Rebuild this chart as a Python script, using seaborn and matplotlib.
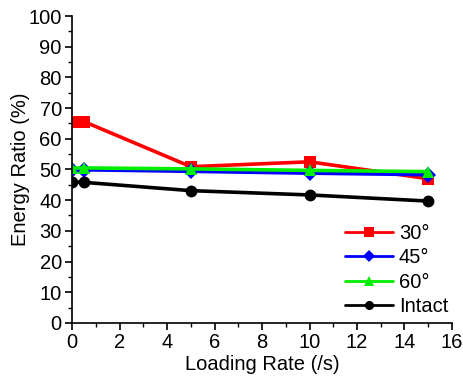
import matplotlib
matplotlib.use("Agg")
import matplotlib.pyplot as plt
import seaborn as sns
import pandas as pd
from matplotlib.ticker import MultipleLocator

loading_rate = [0.01, 0.5, 5, 10, 15]
ratio_30 = [65.6, 65.6, 50.9, 52.5, 47.0]
ratio_45 = [49.9, 49.9, 49.4, 48.8, 48.3]
ratio_60 = [50.5, 50.5, 50.2, 49.7, 49.3]
ratio_intact = [46.0, 45.8, 43.1, 41.7, 39.7]
series_names = ["30°", "45°", "60°", "Intact"]

df = pd.concat([
    pd.DataFrame({"rate": loading_rate, "ratio": vals, "group": name})
    for name, vals in zip(series_names, [ratio_30, ratio_45, ratio_60, ratio_intact])
])

sns.set_style("ticks", {"text.color": "black", "axes.labelcolor": "black",
                        "xtick.color": "black", "ytick.color": "black",
                        "axes.edgecolor": "black"})
plt.rcParams["font.family"] = ["Liberation Sans", "DejaVu Sans"]

fig, ax = plt.subplots(figsize=(4.63, 3.83), dpi=100)
fig.subplots_adjust(left=0.156, right=0.976, top=0.958, bottom=0.157)

palette = {"30°": "#ff0000", "45°": "#0000ff", "60°": "#00ee00", "Intact": "#000000"}
markers = {"30°": "s", "45°": "D", "60°": "^", "Intact": "o"}
sns.lineplot(data=df, x="rate", y="ratio", hue="group", style="group",
             palette=palette, markers=markers, dashes=False,
             linewidth=2.6, markersize=8.5, markeredgewidth=0, ax=ax)

ax.set_xlim(0, 16)
ax.set_ylim(0, 100)
ax.xaxis.set_major_locator(MultipleLocator(2))
ax.xaxis.set_minor_locator(MultipleLocator(1))
ax.yaxis.set_major_locator(MultipleLocator(10))
ax.yaxis.set_minor_locator(MultipleLocator(5))
ax.tick_params(which="major", direction="out", length=5, width=1.2, labelsize=14.5,
               color="black", labelcolor="black", pad=2.5)
ax.tick_params(which="minor", direction="out", length=3, width=1.0, color="black")
ax.set_xlabel("Loading Rate (/s)", fontsize=14.5, labelpad=2, color="black")
ax.set_ylabel("Energy Ratio (%)", fontsize=14.5, labelpad=-1, color="black")
sns.despine(ax=ax)
for s in ["left", "bottom"]:
    ax.spines[s].set_linewidth(1.2)
    ax.spines[s].set_color("black")

leg = ax.legend(loc="lower right", frameon=False, fontsize=14.5, handlelength=2.4,
                labelspacing=0.26, handletextpad=0.3, borderaxespad=0.1,
                bbox_to_anchor=(1.017, -0.01))
for h in leg.legend_handles:
    h.set_linewidth(2.0)
    h.set_markersize(6.5)
for t in leg.get_texts():
    t.set_color("black")

fig.savefig("out.png", dpi=100)
